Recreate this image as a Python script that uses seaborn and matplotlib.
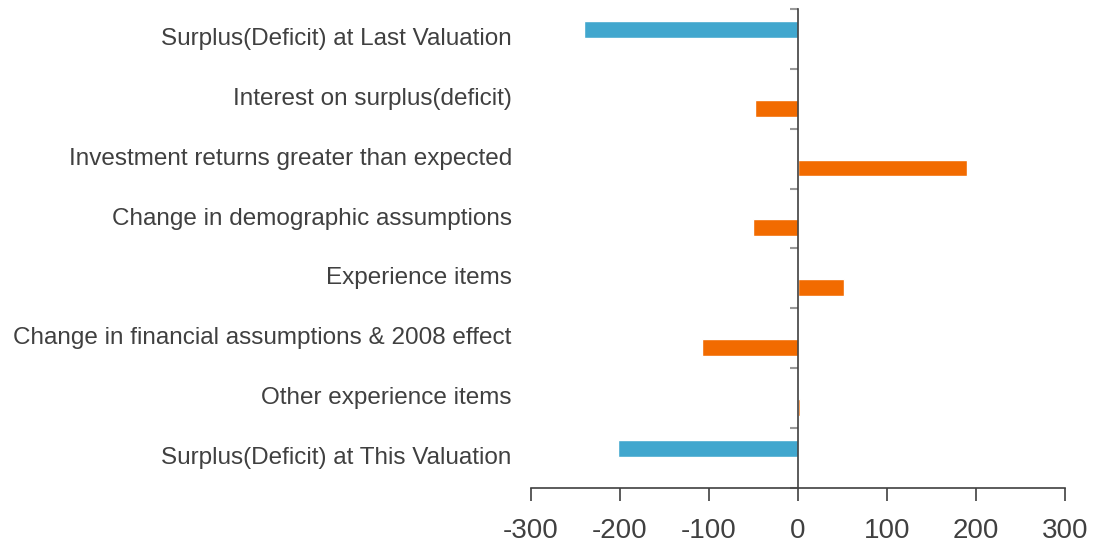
import numpy as np
import pandas as pd
import seaborn as sns
import matplotlib.pyplot as plt

categories = [
    "Surplus(Deficit) at Last Valuation",
    "Interest on surplus(deficit)",
    "Investment returns greater than expected",
    "Change in demographic assumptions",
    "Experience items",
    "Change in financial assumptions & 2008 effect",
    "Other experience items",
    "Surplus(Deficit) at This Valuation",
]
values = [-240, -48, 190, -51, 52, -108, 2, -202]
kinds = ["total", "step", "step", "step", "step", "step", "step", "total"]
x_ticks = [-300, -200, -100, 0, 100, 200, 300]

palette = {"total": "#41A7CE", "step": "#F26B00"}
text_color = "#404040"

df = pd.DataFrame({"item": categories, "value": values, "kind": kinds})

sns.set_theme(style="white")
plt.rcParams['font.family'] = ['Liberation Sans', 'DejaVu Sans']

fig, ax = plt.subplots(figsize=(10.95, 5.47), dpi=100)
fig.subplots_adjust(left=0.485, right=0.9726, top=0.9835, bottom=0.108)

# two series side by side like the original, blue slot above orange slot
sns.barplot(data=df, y="item", x="value", hue="kind", hue_order=["total", "step"],
            palette=palette, dodge=True, width=0.62, gap=0.09,
            legend=False, saturation=1, ax=ax)

n = len(categories)
ax.set_xlim(-300, 300)
ax.set_ylim(n - 0.5, -0.5)
ax.set_xticks(x_ticks)
ax.set_xticklabels([str(t) for t in x_ticks], fontsize=20, color=text_color)
ax.set_xlabel("")
ax.set_ylabel("")

# y spine sits at zero, ticks between categories
ax.spines['left'].set_position(('data', 0))
ax.spines['left'].set_color(text_color)
ax.spines['left'].set_linewidth(1.2)
ax.spines['bottom'].set_color(text_color)
ax.spines['bottom'].set_linewidth(1.2)
ax.spines['top'].set_visible(False)
ax.spines['right'].set_visible(False)

ax.set_yticks(np.arange(-0.5, n, 1.0))
ax.set_yticklabels([])
ax.tick_params(axis='y', left=True, length=6, width=1.5, color="#999999", direction='out')
ax.tick_params(axis='x', bottom=True, length=9, width=1.2, color=text_color,
               direction='out', pad=13)

for i, name in enumerate(categories):
    ax.text(-0.036, i, name, transform=ax.get_yaxis_transform(),
            ha='right', va='center', fontsize=17.5, color=text_color)

plt.savefig('out.png', dpi=100)
